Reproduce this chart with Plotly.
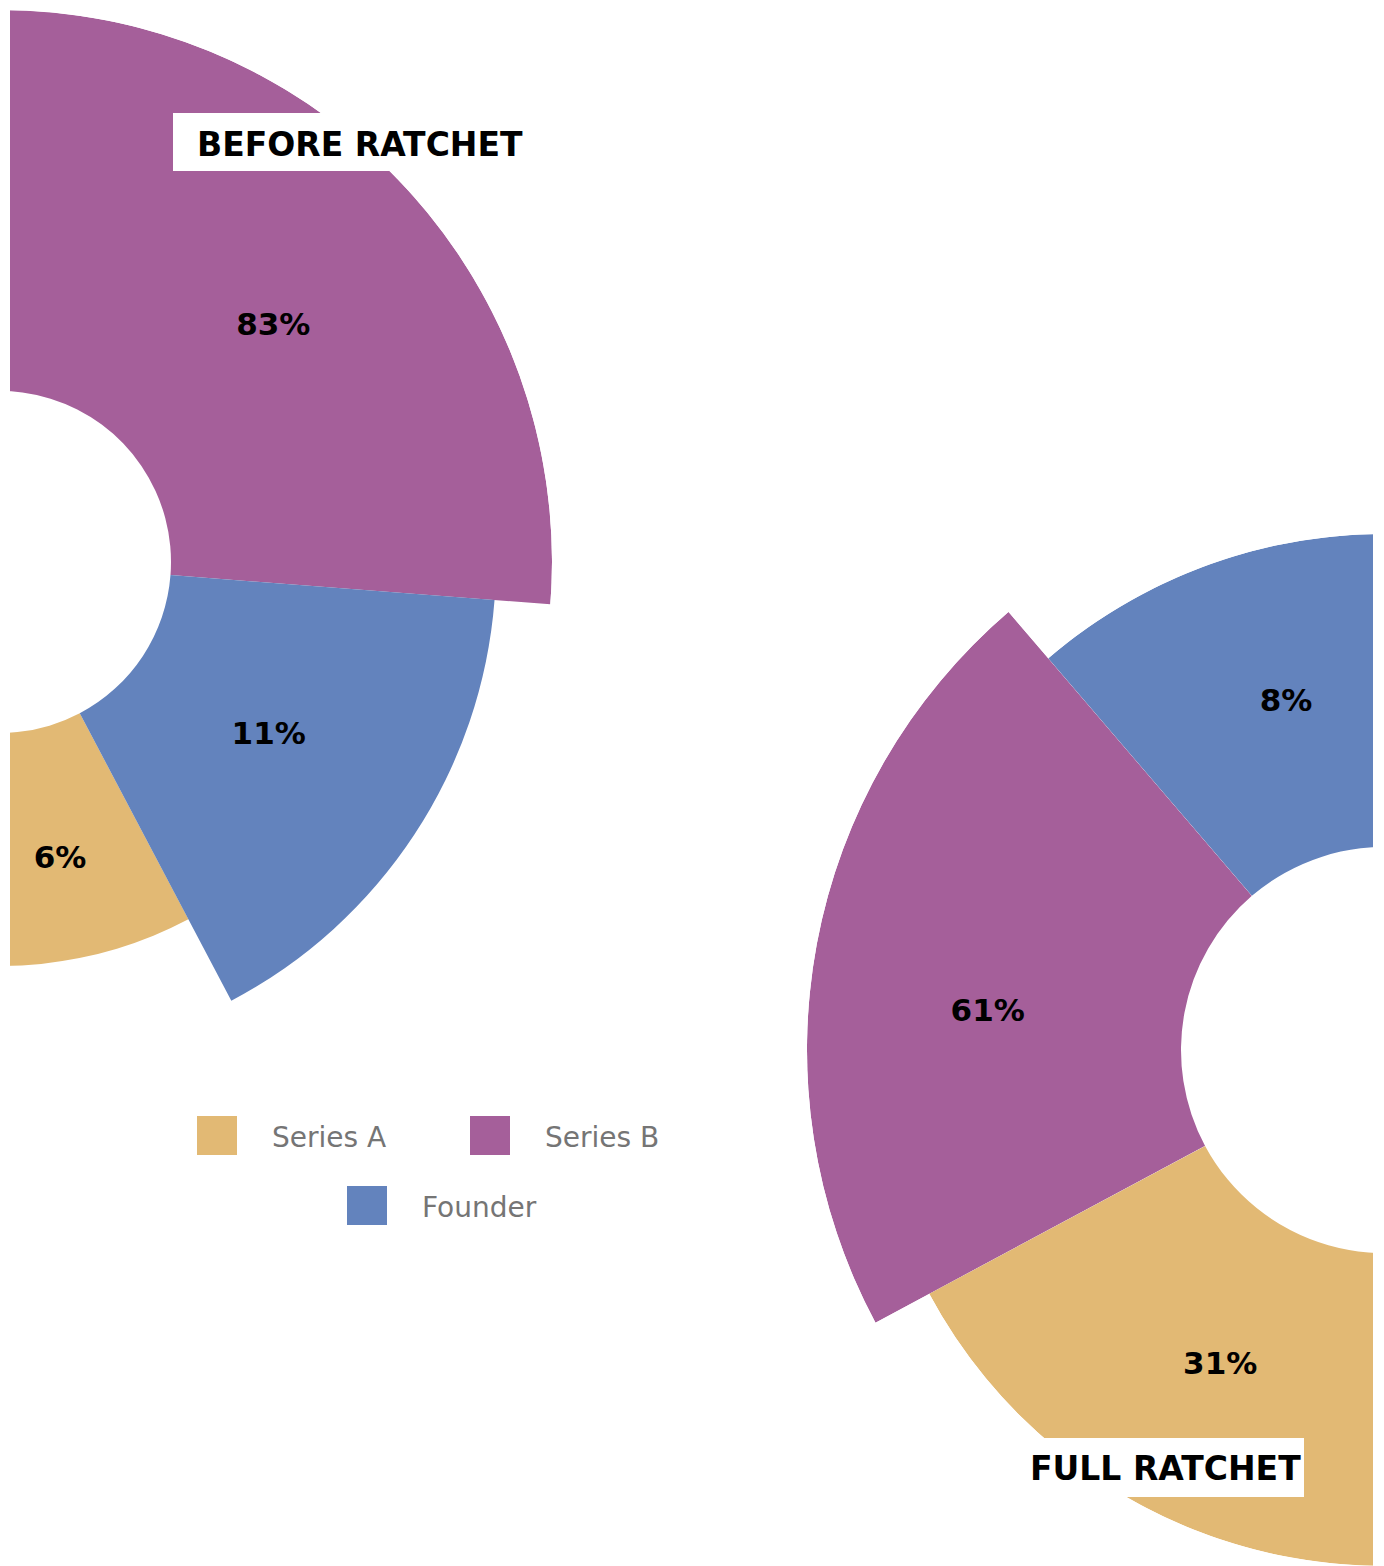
import numpy as np
import plotly.graph_objects as go

W, H = 1384, 1566

# ---------------- data ----------------
categories = ["Series A", "Series B", "Founder"]
before_pct = [6, 83, 11]
full_pct = [31, 61, 8]
colors = ["#E2B974", "#A55F9A", "#6383BD"]
titles = ["BEFORE RATCHET", "FULL RATCHET"]

# ---------------- geometry (degrees ccw from east, radii in px) ----------------
before_start = [-150.0, -4.4, -62.2]
before_end = [-62.2, 150.0, -4.4]
before_outer = [404, 552, 496]
before_hole = 171
before_label_r = [304, 360, 320]
before_label_theta = [-78.6, 40.6, -32.9]

full_start = [208.2, 130.6, 40.0]
full_end = [300.0, 208.2, 130.6]
full_outer = [516, 577, 516]
full_hole = 203
full_label_r = [356, 398, 360]
full_label_theta = [242.6, 174.7, 105.8]

LEFT_CENTER = (0, 562)
RIGHT_CENTER = (1384, 1050)

BOLD = "DejaVu Sans"
LIGHT = "DejaVu Sans"


def sector_bbox(s0, s1):
    ang = np.deg2rad(np.linspace(s0, s1, 7201))
    xs = np.concatenate([[0.0], np.cos(ang)])
    ys = np.concatenate([[0.0], np.sin(ang)])
    return xs.min(), ys.min(), xs.max(), ys.max()


def domain_for(center, R, sector):
    bx0, by0, bx1, by1 = sector_bbox(*sector)
    cx, cy = center
    x0 = cx + R * bx0
    x1 = cx + R * bx1
    ytop = cy - R * by1
    ybot = cy - R * by0
    clamp = lambda v: float(min(1.0, max(0.0, v)))
    return dict(x=[clamp(x0 / W), clamp(x1 / W)],
                y=[clamp(1 - ybot / H), clamp(1 - ytop / H)])


fig = go.Figure()

label_font = dict(family=BOLD, size=31, color="#000000", weight="bold")

# left chart (before ratchet)
for i, cat in enumerate(categories):
    fig.add_trace(go.Barpolar(
        r=[before_outer[i] - before_hole], base=[before_hole],
        theta=[(before_start[i] + before_end[i]) / 2],
        width=[before_end[i] - before_start[i]],
        marker=dict(color=colors[i], line=dict(width=0)),
        name=cat, subplot="polar", showlegend=False,
        hovertemplate=f"{cat}: {before_pct[i]}%<extra></extra>"))
fig.add_trace(go.Scatterpolar(
    r=before_label_r, theta=before_label_theta, mode="text",
    text=[f"{v}%" for v in before_pct], textfont=label_font,
    subplot="polar", showlegend=False, hoverinfo="skip"))

# right chart (full ratchet)
full_subplot = ["polar2", "polar3", "polar2"]
for i, cat in enumerate(categories):
    fig.add_trace(go.Barpolar(
        r=[full_outer[i] - full_hole], base=[full_hole],
        theta=[(full_start[i] + full_end[i]) / 2],
        width=[full_end[i] - full_start[i]],
        marker=dict(color=colors[i], line=dict(width=0)),
        name=cat, subplot=full_subplot[i], showlegend=False,
        hovertemplate=f"{cat}: {full_pct[i]}%<extra></extra>"))
for i in range(3):
    fig.add_trace(go.Scatterpolar(
        r=[full_label_r[i]], theta=[full_label_theta[i]], mode="text",
        text=[f"{full_pct[i]}%"], textfont=label_font,
        subplot=full_subplot[i], showlegend=False, hoverinfo="skip"))

R_left = max(before_outer)
R_right = 516
R_pink = full_outer[1]
sec_left = [-90, 90]
sec_right = [90, 270]
sec_pink = [full_start[1], full_end[1]]

hidden_polar = lambda R, sec, center: dict(
    domain=domain_for(center, R, sec), sector=sec, hole=0,
    bgcolor="rgba(0,0,0,0)",
    radialaxis=dict(range=[0, R], visible=False, showgrid=False),
    angularaxis=dict(visible=False, showgrid=False, rotation=0,
                     direction="counterclockwise"))

shapes = []
px = lambda v: v / W
py = lambda v: 1 - v / H
# edge masks
shapes.append(dict(type="rect", xref="paper", yref="paper", x0=0, x1=px(10),
                   y0=0, y1=1, fillcolor="white", line=dict(width=0), layer="above"))
shapes.append(dict(type="rect", xref="paper", yref="paper", x0=px(1373), x1=1,
                   y0=0, y1=1, fillcolor="white", line=dict(width=0), layer="above"))
# title boxes
title_boxes = [(173, 527, 113, 171), (1015, 1304, 1438, 1497)]
title_centers = [(360, 144), (1165, 1468)]
annotations = []
for (x0, x1, y0, y1), (tx, ty), t in zip(title_boxes, title_centers, titles):
    shapes.append(dict(type="rect", xref="paper", yref="paper",
                       x0=px(x0), x1=px(x1), y0=py(y1), y1=py(y0),
                       fillcolor="white", line=dict(width=0), layer="above"))
    annotations.append(dict(x=px(tx), y=py(ty), xref="paper", yref="paper",
                            text=t, showarrow=False, xanchor="center", yanchor="middle",
                            font=dict(family=BOLD, size=33, color="#000000", weight="bold")))

# legend (manual, large swatches)
legend_swatch = [(197, 1116), (470, 1116), (347, 1186)]
for i, cat in enumerate(categories):
    sx, sy = legend_swatch[i]
    shapes.append(dict(type="rect", xref="paper", yref="paper",
                       x0=px(sx), x1=px(sx + 40), y0=py(sy + 39), y1=py(sy),
                       fillcolor=colors[i], line=dict(width=0), layer="above"))
    annotations.append(dict(x=px(sx + 73), y=py(sy + 21), xref="paper", yref="paper",
                            text=cat, showarrow=False, xanchor="left", yanchor="middle",
                            font=dict(family=LIGHT, size=28, color="#757575")))

fig.update_layout(
    width=W, height=H, margin=dict(l=0, r=0, t=0, b=0, pad=0),
    paper_bgcolor="white", plot_bgcolor="white", showlegend=False,
    polar=hidden_polar(R_left, sec_left, LEFT_CENTER),
    polar2=hidden_polar(R_right, sec_right, RIGHT_CENTER),
    polar3=hidden_polar(R_pink, sec_pink, RIGHT_CENTER),
    shapes=shapes, annotations=annotations,
)

fig.write_html("out.html")
